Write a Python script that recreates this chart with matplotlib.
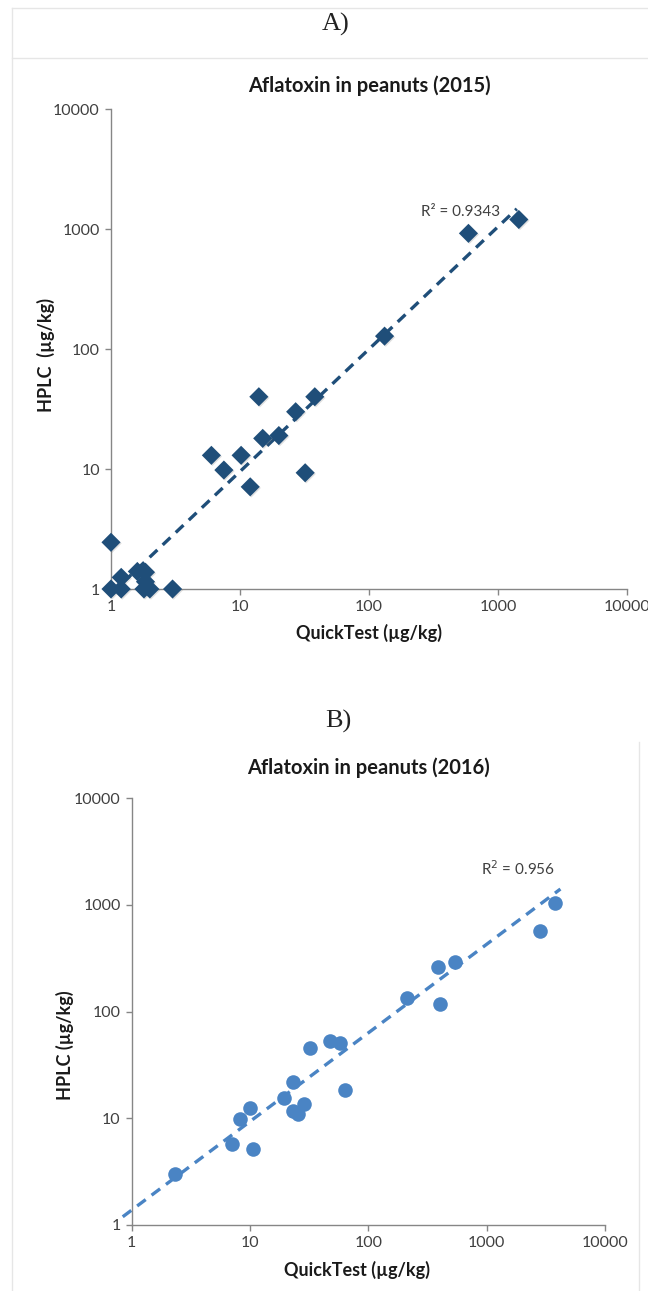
import matplotlib
matplotlib.use("Agg")
import matplotlib.pyplot as plt
import matplotlib.patheffects as pe
import numpy as np

# ---------------- data ----------------
# Panel A (2015)
qt_2015 = [1, 1, 1.2, 1.2, 1.6, 1.85, 1.85, 1.8, 2.0, 3.0, 6.0, 7.5, 10.2, 12, 14,
           15, 20, 27, 32, 38, 132, 590, 1450]
hplc_2015 = [2.45, 1, 1, 1.25, 1.4, 1.38, 1.15, 1, 1, 1, 13, 9.8, 13, 7.1, 40,
             18, 19, 30, 9.3, 40, 128, 920, 1200]
trend_2015 = {"a": 0.91, "b": 1.02, "xmin": 1.25, "xmax": 1400}
r2_2015 = "R\u00b2 = 0.9343"

# Panel B (2016)
qt_2016 = [2.3, 7.1, 8.2, 10, 10.5, 19.5, 23, 23, 25.5, 28.5, 32, 47, 58, 64,
           214, 400, 390, 545, 2800, 3750]
hplc_2016 = [3.0, 5.8, 9.9, 12.4, 5.2, 15.6, 22, 11.6, 11, 13.5, 46, 53, 51, 18.4,
             135, 117, 260, 290, 570, 1040]
trend_2016 = {"a": 1.38, "b": 0.83, "xmin": 0.84, "xmax": 4200}
r2_2016 = "R$^2$ = 0.956"

ticks = [1, 10, 100, 1000, 10000]
tick_labels = ["1", "10", "100", "1000", "10000"]

W, H = 648, 1291
fig = plt.figure(figsize=(W / 100, H / 100), dpi=100)
fig.patch.set_facecolor("white")

FONT = ["Lato", "DejaVu Sans"]
GREY = "#868686"
TXT = "#404040"


def style_axes(ax):
    ax.set_xscale("log")
    ax.set_yscale("log")
    ax.set_xlim(1, 10000)
    ax.set_ylim(1, 10000)
    ax.set_xticks(ticks)
    ax.set_xticklabels(tick_labels)
    ax.set_yticks(ticks)
    ax.set_yticklabels(tick_labels)
    ax.minorticks_off()
    for s in ["top", "right"]:
        ax.spines[s].set_visible(False)
    for s in ["left", "bottom"]:
        ax.spines[s].set_color(GREY)
        ax.spines[s].set_linewidth(1.0)
    ax.tick_params(axis="both", which="major", length=4, width=1, color=GREY,
                   labelcolor=TXT, labelsize=11.5, pad=4)
    for lab in ax.get_xticklabels() + ax.get_yticklabels():
        lab.set_family(FONT)
    ax.set_facecolor("none")


# ---------- Panel A ----------
axA = fig.add_axes([111 / W, 1 - 589 / H, 516 / W, 480 / H])
style_axes(axA)
cA = "#1F4E79"
tx = np.logspace(np.log10(trend_2015["xmin"]), np.log10(trend_2015["xmax"]), 100)
axA.plot(tx, trend_2015["a"] * tx ** trend_2015["b"], color=cA, lw=2.4,
         dashes=(3.2, 2.2), zorder=2)
scA = axA.scatter(qt_2015, hplc_2015, marker="D", s=95, color=cA, zorder=3,
                  clip_on=False, linewidths=0)
scA.set_path_effects([pe.SimplePatchShadow(offset=(0.8, -0.8), alpha=0.2,
                                           shadow_rgbFace="#666666"), pe.Normal()])
axA.text(0.754, 0.785, r2_2015, transform=axA.transAxes, ha="right", va="center",
         fontsize=11, color=TXT, family=FONT)
axA.set_title("Aflatoxin in peanuts (2015)", fontsize=14.5, fontweight="bold",
              family=FONT, color="#1a1a1a", pad=0, y=1 + (109 - 85) / 480 - 0.014)
fig.text(369 / W, 1 - 633 / H, "QuickTest (\u00b5g/kg)", ha="center", va="center",
         fontsize=13, fontweight="bold", family=FONT, color="#1a1a1a")
fig.text(46 / W, 1 - 355 / H, "HPLC  (\u00b5g/kg)", ha="center", va="center",
         rotation=90, fontsize=13, fontweight="bold", family=FONT, color="#1a1a1a")

# ---------- Panel B ----------
axB = fig.add_axes([131.7 / W, 1 - 1225 / H, 473.3 / W, 427 / H])
style_axes(axB)
cB = "#4A84C4"
tx2 = np.logspace(np.log10(trend_2016["xmin"]), np.log10(trend_2016["xmax"]), 100)
axB.plot(tx2, trend_2016["a"] * tx2 ** trend_2016["b"], color=cB, lw=2.4,
         dashes=(3.2, 2.2), zorder=2, clip_on=False)
axB.scatter(qt_2016, hplc_2016, marker="o", s=110, color=cB, zorder=3,
            clip_on=False, linewidths=0)
axB.text(0.894, 0.834, r2_2016, transform=axB.transAxes, ha="right", va="center",
         fontsize=11, color=TXT, family=FONT)
axB.set_title("Aflatoxin in peanuts (2016)", fontsize=14.5, fontweight="bold",
              family=FONT, color="#1a1a1a", pad=0, y=1 + (798 - 767) / 427 - 0.016)
fig.text(357 / W, 1 - 1270 / H, "QuickTest (\u00b5g/kg)", ha="center", va="center",
         fontsize=13, fontweight="bold", family=FONT, color="#1a1a1a")
fig.text(65 / W, 1 - 1045 / H, "HPLC (\u00b5g/kg)", ha="center", va="center",
         rotation=90, fontsize=13, fontweight="bold", family=FONT, color="#1a1a1a")

# ---------- panel letters ----------
fig.text(336 / W, 1 - 24 / H, "A)", ha="center", va="center", fontsize=19,
         family=["Liberation Serif", "DejaVu Serif"], color="#222222")
fig.text(338 / W, 1 - 721 / H, "B)", ha="center", va="center", fontsize=19,
         family=["Liberation Serif", "DejaVu Serif"], color="#222222")

# ---------- light frame lines ----------
BORD = "#e6e6e6"
fig.add_artist(plt.Line2D([12 / W, 12 / W], [0, 1 - 8 / H], color=BORD, lw=1))
fig.add_artist(plt.Line2D([12 / W, 1], [1 - 8 / H, 1 - 8 / H], color=BORD, lw=1))
fig.add_artist(plt.Line2D([12 / W, 1], [1 - 58 / H, 1 - 58 / H], color=BORD, lw=1))
fig.add_artist(plt.Line2D([639 / W, 639 / W], [0, 1 - 742 / H], color=BORD, lw=1))

fig.savefig("out.png", dpi=100, facecolor="white")
